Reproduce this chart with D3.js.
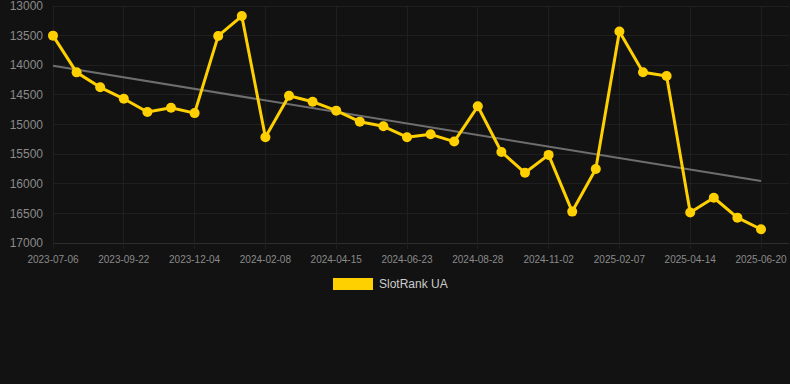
<!DOCTYPE html>
<html><head><meta charset="utf-8">
<script src="https://cdn.jsdelivr.net/npm/d3@7"></script>
<style>
html,body{margin:0;padding:0;background:#121212;}
svg{display:block;}
</style></head>
<body>
<script>
// Categories (only every third date is shown as a tick label)
const dates = [
 "2023-07-06","2023-08-01","2023-08-27","2023-09-22","2023-10-16","2023-11-10","2023-12-04",
 "2023-12-26","2024-01-17","2024-02-08","2024-03-01","2024-03-23","2024-04-15","2024-05-08",
 "2024-05-31","2024-06-23","2024-07-15","2024-08-06","2024-08-28","2024-09-19","2024-10-11",
 "2024-11-02","2024-12-03","2025-01-05","2025-02-07","2025-03-01","2025-03-23","2025-04-14",
 "2025-05-06","2025-05-28","2025-06-20"
];
const rankValues = [
 13500,14120,14372,14566,14790,14716,14808,13505,13170,15214,14516,14615,14766,14952,15031,
 15214,15166,15288,14693,15464,15815,15513,16470,15750,13430,14118,14180,16486,16236,16572,16768
];
const trendValues = [14010, 15955]; // start and end of the trend line
const yTicks = [13000,13500,14000,14500,15000,15500,16000,16500,17000];
const seriesName = "SlotRank UA";

(function(){
const W = 790, H = 384;
const pLeft = 53, pRight = 789, pTop = 6, pBottom = 243;
const lastX = 761;

const svg = d3.select("body").append("svg").attr("width", W).attr("height", H);
svg.append("rect").attr("width", W).attr("height", H).attr("fill", "#121212");

const x = d3.scalePoint().domain(d3.range(dates.length)).range([pLeft, lastX]);
const y = d3.scaleLinear().domain([13000, 17000]).range([pTop, pBottom]);

// horizontal grid
svg.append("g").selectAll("line").data(yTicks).join("line")
  .attr("x1", pLeft).attr("x2", pRight)
  .attr("y1", d => y(d)).attr("y2", d => y(d))
  .attr("stroke", d => d === 17000 ? "#2e2e2e" : "#1f1f1f").attr("stroke-width", 1)
  .attr("shape-rendering", "crispEdges");

// vertical grid at labelled categories
const tickIdx = d3.range(0, dates.length, 3);
svg.append("g").selectAll("line").data(tickIdx).join("line")
  .attr("x1", d => x(d)).attr("x2", d => x(d))
  .attr("y1", pTop).attr("y2", pBottom + 6)
  .attr("stroke", "#1f1f1f").attr("stroke-width", 1)
  .attr("shape-rendering", "crispEdges");

// y labels
svg.append("g").selectAll("text").data(yTicks).join("text")
  .attr("x", 43).attr("y", d => y(d)).attr("dy", "0.35em")
  .attr("text-anchor", "end")
  .attr("font-family", "Liberation Sans, Arial, sans-serif").attr("font-size", 12)
  .attr("fill", "#8a8a8a").text(d => d);

// x labels
svg.append("g").selectAll("text").data(tickIdx).join("text")
  .attr("x", d => x(d)).attr("y", 259).attr("dy", "0.35em")
  .attr("text-anchor", "middle")
  .attr("font-family", "Liberation Sans, Arial, sans-serif").attr("font-size", 10)
  .attr("fill", "#8a8a8a").text(d => dates[d]);

// trend line
svg.append("line")
  .attr("x1", x(0)).attr("x2", x(dates.length - 1))
  .attr("y1", y(trendValues[0])).attr("y2", y(trendValues[1]))
  .attr("stroke", "#6e6e6e").attr("stroke-width", 2);

// series line
const color = "#FFD000";
const line = d3.line().x((d, i) => x(i)).y(d => y(d));
svg.append("path").datum(rankValues).attr("d", line)
  .attr("fill", "none").attr("stroke", color).attr("stroke-width", 3)
  .attr("stroke-linejoin", "round");

svg.append("g").selectAll("circle").data(rankValues).join("circle")
  .attr("cx", (d, i) => x(i)).attr("cy", d => y(d)).attr("r", 5)
  .attr("fill", color);

// legend
svg.append("rect").attr("x", 333).attr("y", 278).attr("width", 40).attr("height", 12)
  .attr("fill", color);
svg.append("text").attr("x", 379).attr("y", 284).attr("dy", "0.35em")
  .attr("font-family", "Liberation Sans, Arial, sans-serif").attr("font-size", 12)
  .attr("fill", "#cccccc").text(seriesName);
})();
</script>
</body></html>
